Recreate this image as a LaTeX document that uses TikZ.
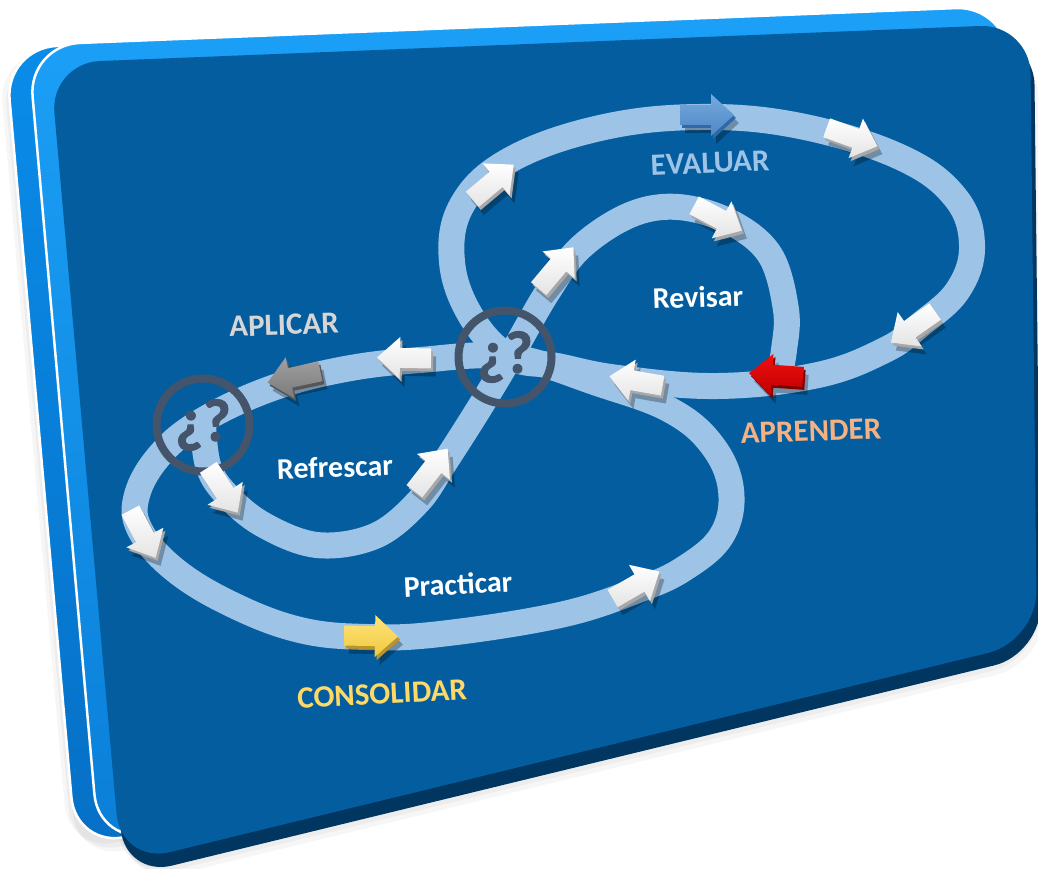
\documentclass[tikz,border=0pt]{standalone}
\usepackage{fontspec}
\setmainfont{Carlito}
\newfontfamily\qfont[FakeBold=1.6]{Carlito Bold}
\definecolor{facec}{HTML}{045D9F}
\definecolor{rimc}{HTML}{00365F}
\definecolor{slabtop}{HTML}{1CA0F7}
\definecolor{slabbot}{HTML}{0A7FD8}
\definecolor{backtop}{HTML}{0A8DEB}
\definecolor{backbot}{HTML}{0670C6}
\definecolor{trackc}{HTML}{9DC3E6}
\definecolor{qc}{HTML}{44546A}
\definecolor{evalc}{HTML}{9DC3E6}
\definecolor{aplc}{HTML}{D6D6D6}
\definecolor{aprc}{HTML}{F4B183}
\definecolor{consc}{HTML}{FFD966}
\definecolor{bluetop}{HTML}{76A9DD}
\definecolor{bluebot}{HTML}{4F88C6}
\definecolor{blueside}{HTML}{2F6AA8}
\definecolor{redtop}{HTML}{F01010}
\definecolor{redbot}{HTML}{C00000}
\definecolor{redside}{HTML}{800000}
\definecolor{graytop}{HTML}{A0A0A0}
\definecolor{graybot}{HTML}{7A7A7A}
\definecolor{grayside}{HTML}{555555}
\definecolor{yeltop}{HTML}{FFE57A}
\definecolor{yelbot}{HTML}{F0C840}
\definecolor{yelside}{HTML}{B8952A}
\definecolor{whtbot}{HTML}{E4E4E4}
\definecolor{whtside}{HTML}{A8A8A8}
\tikzset{
  track/.style={draw=trackc, line width=26pt, line cap=butt, line join=round},
  qcircle/.style={circle, draw=qc, line width=8pt, minimum size=93pt, inner sep=0pt,
    text=qc, font=\qfont\fontsize{60}{64}\selectfont},
  lbl/.style={font=\bfseries\fontsize{31}{36}\selectfont, inner sep=0pt},
  lbs/.style={font=\bfseries\fontsize{30}{34}\selectfont, inner sep=0pt, text=white},
  slabline/.style={draw=white, line width=2.5pt}
}
\def\facepath{(50,63) -- (1030,24) -- (1037,641) -- (121,864) -- cycle}
\def\arwshape{(-27,-10) -- (4,-10) -- (4,-21) -- (27,0) -- (4,21) -- (4,10) -- (-27,10) -- cycle}
% #1 x, #2 y, #3 angle, #4 top colour, #5 bottom colour, #6 side colour
\newcommand{\barw}[6]{%
\begin{scope}[shift={(#1,#2)}]
  \begin{scope}[shift={(3,5)},rotate=#3]
    \fill[black,opacity=.28] \arwshape;
  \end{scope}
  \begin{scope}[rotate=#3]
    \fill[#6] \arwshape;
  \end{scope}
  \begin{scope}[shift={(-2,-3)},rotate=#3]
    \shade[top color=#4, bottom color=#5] \arwshape;
  \end{scope}
\end{scope}}
\begin{document}
\begin{tikzpicture}[x=1pt,y=-1pt]
\useasboundingbox (0,0) rectangle (1038,869);
\fill[white] (0,0) rectangle (1038,869);
% soft shadow
\foreach \dx/\dy in {-52/-10,-48/-6,-44/-2,4/18,8/22,0/14}{
  \begin{scope}[shift={(\dx,\dy)}]
    \fill[black,opacity=.035,rounded corners=50pt] \facepath;
  \end{scope}}
% back slab
\begin{scope}[shift={(-45,-15)}]
  \shade[top color=backtop,bottom color=backbot,rounded corners=52pt] \facepath;
  \draw[slabline,rounded corners=52pt] \facepath;
\end{scope}
% front slab
\begin{scope}[shift={(-22,-18)}]
  \shade[top color=slabtop,bottom color=slabbot,rounded corners=52pt] \facepath;
  \draw[slabline,rounded corners=52pt] \facepath;
\end{scope}
% dark rim
\begin{scope}[shift={(4,13)}]
  \fill[rimc,rounded corners=48pt] \facepath;
\end{scope}
% face
\fill[facec,rounded corners=50pt] \facepath;

% tracks
\draw[track] plot[smooth cycle, tension=0.65] coordinates {
  (510,357) (472,318) (452,262) (462,205) (510,160) (600,128) (700,117)
  (800,126) (900,157) (955,197) (972,245) (958,290) (920,325) (885,350)
  (818,375) (718,386) (618,378) (557,366)};
\draw[track] plot[smooth cycle, tension=0.65] coordinates {
  (510,357) (600,384) (670,410) (712,445) (731,490) (722,535) (685,568)
  (638,590) (560,615) (440,634) (367,637) (300,630) (233,605) (175,570)
  (140,530) (137,495) (160,455) (200,422) (267,390) (340,370) (420,360)};
\draw[track] plot[smooth, tension=0.6] coordinates {
  (203,425) (208,465) (225,493) (262,524) (317,545) (375,536) (418,502)
  (445,462) (480,407) (513,352) (547,293) (580,248) (630,215) (678,207)
  (730,222) (770,255) (786,310) (784,350) (778,382)};

% decision circles
\node[qcircle] (qcenter) at (505,357) {¿?};
\node[qcircle] (qleft) at (203,425) {¿?};

% arrows
\barw{495}{185}{40}{white}{whtbot}{whtside}
\barw{709}{118}{0}{bluetop}{bluebot}{blueside}
\barw{854}{140}{-20}{white}{whtbot}{whtside}
\barw{915}{330}{215}{white}{whtbot}{whtside}
\barw{778}{378}{176}{redtop}{redbot}{redside}
\barw{638}{384}{170}{white}{whtbot}{whtside}
\barw{406}{361}{179}{white}{whtbot}{whtside}
\barw{296}{380}{192}{graytop}{graybot}{grayside}
\barw{225}{493}{-57}{white}{whtbot}{whtside}
\barw{145}{537}{-62}{white}{whtbot}{whtside}
\barw{373}{639}{-1}{yeltop}{yelbot}{yelside}
\barw{638}{588}{30}{white}{whtbot}{whtside}
\barw{433}{473}{52}{white}{whtbot}{whtside}
\barw{558}{271}{50}{white}{whtbot}{whtside}
\barw{720}{221}{-28}{white}{whtbot}{whtside}

% labels
\node[lbl, text=evalc, rotate=2.5] (evaluar) at (710,163) {EVALUAR};
\node[lbl, text=aplc, rotate=2] (aplicar) at (284,325) {APLICAR};
\node[lbl, text=aprc, rotate=2] (aprender) at (811,431) {APRENDER};
\node[lbl, text=consc, rotate=3] (consolidar) at (382,694) {CONSOLIDAR};
\node[lbs, rotate=2] (revisar) at (698,297) {Revisar};
\node[lbs, rotate=2] (refrescar) at (335,467) {Refrescar};
\node[lbs, rotate=3] (practicar) at (458,584) {Practicar};
\end{tikzpicture}
\end{document}
